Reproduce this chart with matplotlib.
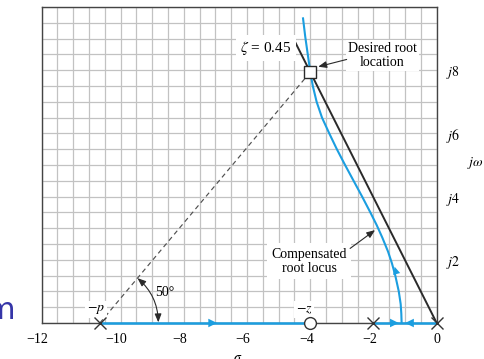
import matplotlib.pyplot as plt
from matplotlib.ticker import MultipleLocator
from matplotlib.transforms import ScaledTranslation

plt.rcParams['font.family'] = 'Liberation Serif'
plt.rcParams['mathtext.fontset'] = 'stix'

# compensated root locus branch (upper half)
locus_omega = [9.64, 9.06, 8.5, 7.94, 7.5, 7.0, 6.5, 6.0, 5.5, 5.0, 4.5,
               4.0, 3.5, 3.1, 2.7, 2.26, 1.9, 1.5, 1.0, 0.6, 0.3, 0.0]
locus_sigma = [-4.23, -4.16, -4.08, -4.0, -3.92, -3.8, -3.63, -3.4, -3.16, -2.9, -2.63,
               -2.36, -2.1, -1.9, -1.72, -1.54, -1.42, -1.31, -1.2, -1.14, -1.12, -1.11]

poles = [-10.66, -2.0, 0.0]
zeros = [-4.0]
zeta = 0.45
desired = (-4.0, 7.94)
# real-axis parts of the locus
real_segments = [(-10.66, -4.0), (-2.0, 0.0)]
# direction arrows on the locus: (x, y, dx, dy)
arrows = [(-6.95, 0, 1, 0), (-1.2, 0, 1, 0), (-1.0, 0, -1, 0), (-1.33, 1.78, -0.27, 1)]

x_ticks = [-12, -10, -8, -6, -4, -2, 0]
y_ticks = [2, 4, 6, 8]

blue = '#1b9ee0'
dark = '#2a2a2a'

fig = plt.figure(figsize=(4.85, 3.59), dpi=100)
ax = fig.add_axes([41.7 / 485, 1 - 323 / 359, 395 / 485, 316 / 359])
ax.set_xlim(-12.5, 0)
ax.set_ylim(0, 10)

ax.xaxis.set_minor_locator(MultipleLocator(0.5))
ax.yaxis.set_minor_locator(MultipleLocator(0.5))
ax.grid(which='both', color='#c2c2c2', lw=0.9)
ax.set_axisbelow(True)

# the book puts the "-12" label on the left border
ax.set_xticks([-12.5] + x_ticks[1:])
ax.set_xticklabels(['\u2212' + str(-v) if v < 0 else str(v) for v in x_ticks], fontsize=10)
ax.yaxis.tick_right()
ax.set_yticks(y_ticks)
ax.set_yticklabels(['$j%d$' % v for v in y_ticks], fontsize=10)
ax.tick_params(which='both', length=0)
ax.tick_params(axis='x', pad=7)
ax.tick_params(axis='y', pad=7)
# digits centred on the tick, minus sign hanging to the left
shift = ScaledTranslation(-4 / 100, 0, fig.dpi_scale_trans)
for v, lbl in zip(x_ticks, ax.get_xticklabels()):
    if v < 0:
        lbl.set_transform(lbl.get_transform() + shift)
for s in ax.spines.values():
    s.set_color('#444444')
    s.set_linewidth(1.0)

# zeta line and dashed line from -p
w_top = 8.95
ax.plot([0, -w_top * zeta / (1 - zeta**2) ** 0.5], [0, w_top], color=dark, lw=1.4, zorder=3)
ax.plot([poles[0], desired[0]], [0, desired[1]], color='#505050', lw=0.85, ls=(0, (4, 3)), zorder=3)

# locus
ax.plot(locus_sigma, locus_omega, color=blue, lw=1.5, zorder=4)
for a, b in real_segments:
    ax.plot([a, b], [0, 0], color=blue, lw=1.8, zorder=4, clip_on=False)
for x, y, dx, dy in arrows:
    ms = 14 if dy == 0 else 12
    ax.annotate('', xy=(x, y), xytext=(x - dx * 0.3, y - dy * 0.3),
                arrowprops=dict(arrowstyle='-|>,head_length=0.45,head_width=0.22',
                                color=blue, lw=0, mutation_scale=ms,
                                shrinkA=0, shrinkB=0), zorder=5)

ax.plot(poles, [0] * len(poles), 'x', color='#333333', ms=8, mew=1.0, zorder=6, clip_on=False)
ax.plot(zeros, [0] * len(zeros), 'o', mfc='white', mec='#333333', ms=8.5, mew=1.0, zorder=6, clip_on=False)
ax.plot(*desired, 's', mfc='white', mec=dark, ms=8, mew=1.0, zorder=6)

box = dict(facecolor='white', edgecolor='none', pad=1.5)
ax.text(-4.59, 8.7, r'$\zeta$ = 0.45', fontsize=11, ha='right', va='center',
        bbox=dict(facecolor='white', edgecolor='none', pad=3), zorder=5)
ax.text(-1.72, 8.46, 'Desired root\nlocation', fontsize=10, ha='center', va='center',
        linespacing=1.1, bbox=box, zorder=5)
ax.annotate('', xy=(-3.75, 8.11), xytext=(-2.85, 8.34),
            arrowprops=dict(arrowstyle='-|>,head_length=0.5,head_width=0.2', color=dark,
                            lw=0.8, mutation_scale=10, shrinkA=0, shrinkB=0), zorder=6)
ax.text(-4.04, 1.96, 'Compensated\nroot locus', fontsize=10, ha='center', va='center',
        linespacing=1.1, bbox=dict(facecolor='white', edgecolor='none', pad=3), zorder=5)
ax.annotate('', xy=(-1.95, 2.94), xytext=(-2.74, 2.36),
            arrowprops=dict(arrowstyle='-|>,head_length=0.5,head_width=0.2', color=dark,
                            lw=0.8, mutation_scale=10, shrinkA=0, shrinkB=0), zorder=6)

ax.text(-10.78, 0.44, r'$-p$', fontsize=10, ha='center', va='center', bbox=box, zorder=5)
ax.text(-4.2, 0.44, r'$-z$', fontsize=10, ha='center', va='center', bbox=box, zorder=5)

# 50 degree angle
ax.annotate('', xy=(-8.81, 0.02), xytext=(-9.47, 1.42),
            arrowprops=dict(arrowstyle='<|-|>,head_length=0.5,head_width=0.2', color=dark,
                            lw=0.8, mutation_scale=10, shrinkA=0, shrinkB=0,
                            connectionstyle='arc3,rad=-0.22'), zorder=6)
ax.text(-8.6, 0.95, '50\u00b0', fontsize=10, ha='center', va='center', zorder=5)

ax.text(1.21, 5.06, r'$j\omega$', fontsize=10, ha='center', va='center', clip_on=False)
ax.text(-6.3, -0.9, r'$\sigma$', fontsize=10, ha='center', va='top', clip_on=False)

fig.text(15 / 485, 1 - 319 / 359, 'm', fontsize=22, color='#3535a8', ha='right',
         va='baseline', family='DejaVu Sans')

fig.savefig('out.png', dpi=100)
